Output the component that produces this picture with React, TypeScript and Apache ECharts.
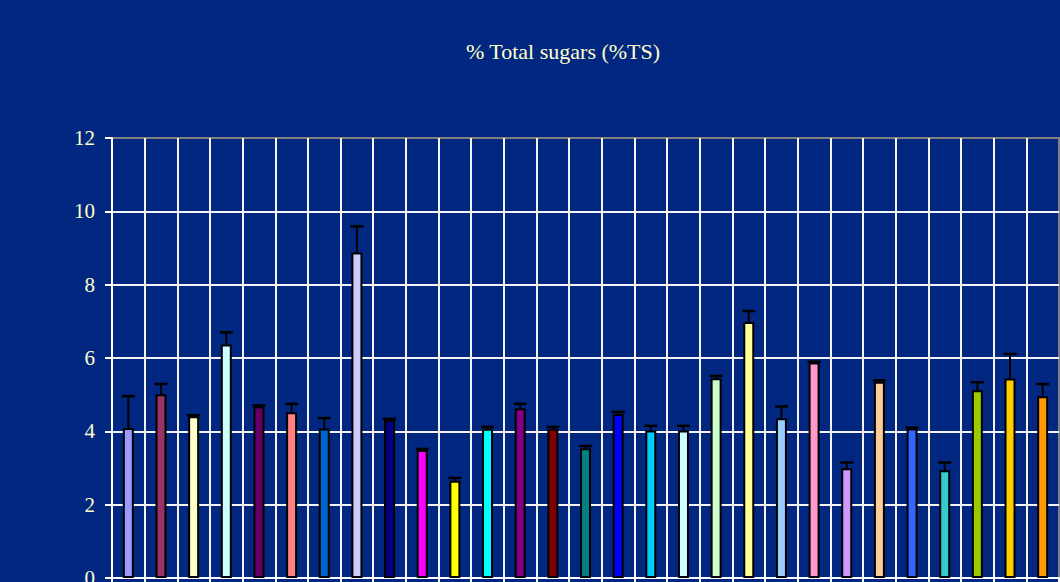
import React, { useEffect, useRef } from "react";
import * as echarts from "echarts";

const categories = [
  "S1", "S2", "S3", "S4", "S5", "S6", "S7", "S8", "S9", "S10",
  "S11", "S12", "S13", "S14", "S15", "S16", "S17", "S18", "S19", "S20",
  "S21", "S22", "S23", "S24", "S25", "S26", "S27", "S28", "S29",
];

const values = [
  4.09, 5.01, 4.41, 6.37, 4.68, 4.52, 4.08, 8.88, 4.31, 3.49,
  2.65, 4.07, 4.63, 4.07, 3.54, 4.47, 4.02, 4.02, 5.45, 6.98,
  4.36, 5.88, 2.99, 5.35, 4.08, 2.94, 5.12, 5.44, 4.96,
];

const errors = [
  0.87, 0.28, 0.03, 0.33, 0.03, 0.23, 0.28, 0.71, 0.03, 0.03,
  0.08, 0.05, 0.12, 0.05, 0.06, 0.06, 0.13, 0.13, 0.06, 0.3,
  0.32, 0.02, 0.16, 0.04, 0.02, 0.21, 0.22, 0.67, 0.33,
];

const colors = [
  "#9999FF", "#993366", "#FFFFCC", "#CCFFFF", "#660066", "#FF8080", "#0066CC", "#CCCCFF", "#000080", "#FF00FF",
  "#FFFF00", "#00FFFF", "#800080", "#800000", "#008080", "#0000FF", "#00CCFF", "#CCFFFF", "#CCFFCC", "#FFFF99",
  "#99CCFF", "#FF99CC", "#CC99FF", "#FFCC99", "#3366FF", "#33CCCC", "#99CC00", "#FFCC00", "#FF9900",
];

const yTicks = { min: 0, max: 12, interval: 2 };
const titleText = "% Total sugars (%TS)";

export default function App() {
  const ref = useRef<HTMLDivElement>(null);
  useEffect(() => {
    if (!ref.current) return;
    const chart = echarts.init(ref.current, undefined, { renderer: "svg" });
    const textColor = "#FFFFCC";
    const font = "'Liberation Serif', 'Times New Roman', serif";
    chart.setOption({
      animation: false,
      backgroundColor: "#022780",
      title: {
        text: titleText,
        left: 558,
        top: 35,
        textAlign: "center",
        textStyle: { color: textColor, fontFamily: font, fontWeight: "normal", fontSize: 22 },
      },
      grid: {
        left: 112,
        right: 1,
        top: 138,
        bottom: 4,
        outerBoundsMode: "none",
        containLabel: false,
        show: true,
        borderColor: "#808080",
        borderWidth: 2,
        backgroundColor: "transparent",
      },
      xAxis: {
        type: "category",
        data: categories,
        boundaryGap: true,
        axisLine: { show: true, lineStyle: { color: "#ffffff", width: 2 } },
        axisTick: { show: true, length: 6, lineStyle: { color: "#ffffff", width: 2 } },
        axisLabel: { show: false },
        splitLine: { show: true, showMaxLine: false, lineStyle: { color: "#f4f4f4", width: 2 } },
      },
      yAxis: {
        type: "value",
        min: yTicks.min,
        max: yTicks.max,
        interval: yTicks.interval,
        axisLine: { show: true, lineStyle: { color: "#ffffff", width: 2 } },
        axisTick: { show: true, length: 7, lineStyle: { color: "#ffffff", width: 2 } },
        axisLabel: { color: textColor, fontFamily: font, fontSize: 21, margin: 17 },
        splitLine: { show: true, showMaxLine: false, lineStyle: { color: "#f4f4f4", width: 2 } },
      },
      series: [
        {
          type: "bar",
          barWidth: 11,
          data: values.map((v, i) => ({ value: v, itemStyle: { color: colors[i] } })),
          itemStyle: { borderColor: "#000000", borderWidth: 2 },
          z: 3,
        },
        {
          type: "custom",
          z: 4,
          data: values.map((v, i) => [i, v, errors[i]]),
          encode: { x: 0, y: 1 },
          renderItem: (params: any, api: any) => {
            const i = api.value(0);
            const v = api.value(1);
            const e = api.value(2);
            const p0 = api.coord([i, v]);
            const p1 = api.coord([i, v + e]);
            return {
              type: "group",
              children: [
                {
                  type: "line",
                  shape: { x1: p0[0], y1: p0[1], x2: p1[0], y2: p1[1] },
                  style: { stroke: "#000000", lineWidth: 2 },
                },
                {
                  type: "line",
                  shape: { x1: p1[0] - 6.5, y1: p1[1], x2: p1[0] + 6.5, y2: p1[1] },
                  style: { stroke: "#000000", lineWidth: 2.5 },
                },
              ],
            };
          },
        },
      ],
    });
    return () => chart.dispose();
  }, []);
  return (
    <div
      ref={ref}
      style={{ position: "fixed", left: 0, top: 0, width: 1060, height: 582 }}
    />
  );
}
